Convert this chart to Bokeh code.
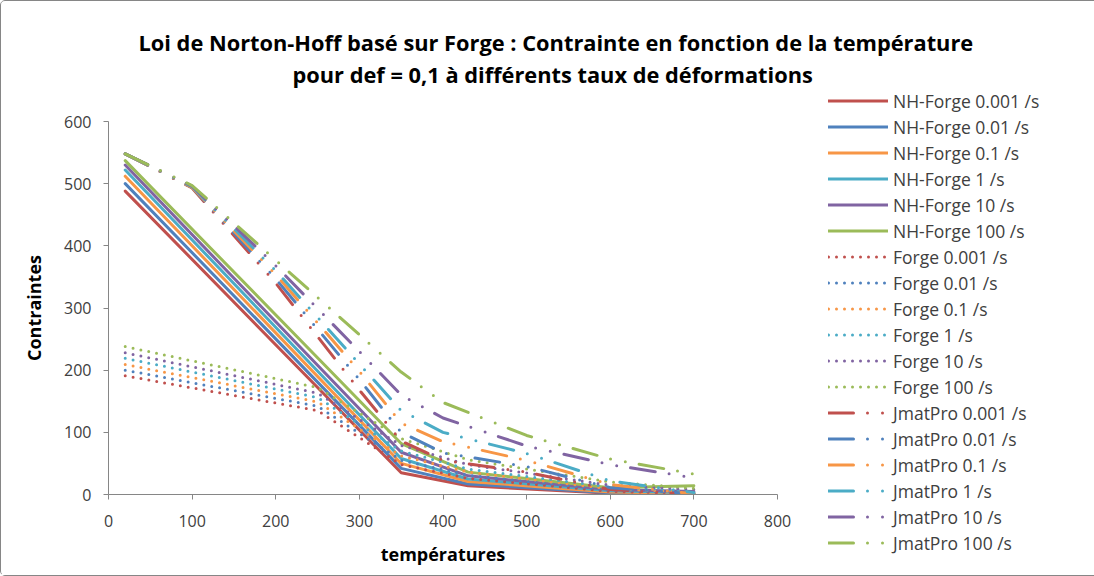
from bokeh.plotting import figure
from bokeh.models import Legend, LegendItem, Title, FixedTicker, Range1d
from bokeh.embed import file_html
from bokeh.resources import INLINE

# ---------------- data ----------------
rates = ["0.001", "0.01", "0.1", "1", "10", "100"]
colors = ["#C0504D", "#4F81BD", "#F79646", "#4BACC6", "#8064A2", "#9BBB59"]

# NH-Forge (solid)
temps_nh = [20, 350, 430, 600, 700]
nh_0001 = [488, 35, 14, 2, 1]
nh_001 = [500, 42, 17, 3, 1]
nh_01 = [512, 50, 21, 4, 2]
nh_1 = [522, 58, 25, 6, 3]
nh_10 = [530, 68, 30, 8, 5]
nh_100 = [537, 82, 36, 11, 14]

# Forge (dotted)
temps_forge = [20, 250, 350, 430, 600, 700]
forge_0001 = [191, 135, 48, 26, 5, 2]
forge_001 = [200, 142, 55, 31, 7, 3]
forge_01 = [209, 149, 62, 36, 9, 4]
forge_1 = [219, 156, 70, 41, 12, 6]
forge_10 = [228, 163, 79, 48, 15, 8]
forge_100 = [238, 172, 90, 56, 20, 10]

# JmatPro (long dash - dot - dot)
temps_jmat = [20, 100, 200, 300, 350, 400, 500, 600, 700]
jmat_0001 = [548, 493, 340, 168, 86, 55, 36, 8, 0]
jmat_001 = [548, 494, 347, 185, 100, 67, 45, 11, 1]
jmat_01 = [548, 494, 354, 198, 115, 85, 55, 16, 1]
jmat_1 = [548, 495, 360, 210, 135, 100, 66, 22, 3]
jmat_10 = [548, 496, 368, 230, 160, 123, 78, 48, 27]
jmat_100 = [548, 497, 377, 257, 197, 148, 95, 57, 33]

x_ticks = [0, 100, 200, 300, 400, 500, 600, 700, 800]
y_ticks = [0, 100, 200, 300, 400, 500, 600]

title_line1 = "Loi de Norton-Hoff basé sur Forge : Contrainte en fonction de la température"
title_line2 = "pour def = 0,1 à différents taux de déformations"

nh_series = [nh_0001, nh_001, nh_01, nh_1, nh_10, nh_100]
forge_series = [forge_0001, forge_001, forge_01, forge_1, forge_10, forge_100]
jmat_series = [jmat_0001, jmat_001, jmat_01, jmat_1, jmat_10, jmat_100]

FONT = "Open Sans"
TXT = "#404040"

p = figure(width=1092, height=574, x_range=Range1d(0, 800), y_range=Range1d(0, 600),
           frame_width=669, frame_height=373,
           output_backend="svg", toolbar_location=None,
           min_border_left=107, min_border_right=316, min_border_top=120, min_border_bottom=81)
p.styles = {"border": "1px solid #868686", "border-radius": "5px"}
p.grid.visible = False
p.outline_line_color = None
p.background_fill_color = "white"
p.border_fill_color = "white"

for ax in (p.xaxis[0], p.yaxis[0]):
    ax.axis_line_color = "#868686"
    ax.major_tick_line_color = "#868686"
    ax.minor_tick_line_color = None
    ax.major_tick_in = 0
    ax.major_tick_out = 5
    ax.major_label_text_font = FONT
    ax.major_label_text_font_size = "16px"
    ax.major_label_text_color = TXT
    ax.axis_label_text_font = FONT
    ax.axis_label_text_font_size = "18px"
    ax.axis_label_text_font_style = "bold"
    ax.axis_label_text_color = "black"
p.xaxis.ticker = FixedTicker(ticks=x_ticks)
p.yaxis.ticker = FixedTicker(ticks=y_ticks)
p.xaxis.axis_label = "températures"
p.yaxis.axis_label = "Contraintes"
p.xaxis.major_label_standoff = 15
p.yaxis.major_label_standoff = 12
p.xaxis.axis_label_standoff = 12
p.yaxis.axis_label_standoff = 15

items = []
for ys, c, r in zip(nh_series, colors, rates):
    rr = p.line(temps_nh, ys, line_color=c, line_width=3, line_cap="round", line_join="round")
    items.append(LegendItem(label=f"NH-Forge {r} /s", renderers=[rr]))
for ys, c, r in zip(forge_series, colors, rates):
    rr = p.line(temps_forge, ys, line_color=c, line_width=3, line_cap="round",
                line_join="round", line_dash="0 8")
    items.append(LegendItem(label=f"Forge {r} /s", renderers=[rr]))
for ys, c, r in zip(jmat_series, colors, rates):
    rr = p.line(temps_jmat, ys, line_color=c, line_width=3, line_cap="round",
                line_join="round", line_dash="25 14 0 15 0 14")
    items.append(LegendItem(label=f"JmatPro {r} /s", renderers=[rr]))

legend = Legend(items=items, location=(51, -61), orientation="vertical",
                glyph_width=60, glyph_height=25, label_height=25, spacing=1,
                label_standoff=5, padding=0, margin=0,
                border_line_alpha=0, background_fill_alpha=0,
                label_text_font=FONT, label_text_font_size="17.5px", label_text_color=TXT)
p.add_layout(legend, "right")

spacer = Title(text=" ", standoff=30, text_font_size="1px")
p.add_layout(spacer, "above")
t2 = Title(text=title_line2, align="left", offset=184, standoff=0,
           text_font=FONT, text_font_size="21.8px", text_font_style="bold", text_color="black")
p.add_layout(t2, "above")
t1 = Title(text=title_line1, align="left", offset=30, standoff=2,
           text_font=FONT, text_font_size="21.8px", text_font_style="bold", text_color="black")
p.add_layout(t1, "above")

open("out.html", "w").write(file_html(p, INLINE))
